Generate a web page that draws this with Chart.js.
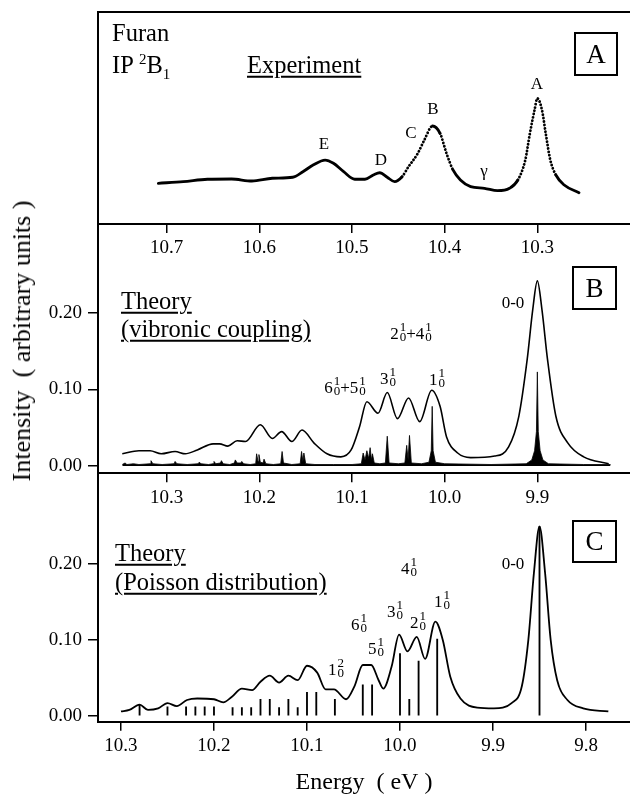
<!DOCTYPE html>
<html>
<head>
<meta charset="utf-8">
<script src="https://cdn.jsdelivr.net/npm/chart.js@4.4.1/dist/chart.umd.min.js"></script>
<style>
  body { margin: 0; background: #fff; }
  #fig { position: relative; width: 630px; height: 796px; overflow: hidden;
         font-family: "Liberation Serif", "Times New Roman", serif; color: #000; }
  #fig canvas { position: absolute; left: 0; }
  .t { position: absolute; white-space: nowrap; line-height: 1; z-index: 2; }
  .lft { transform: translate(0, -50%); }
  .c { transform: translate(-50%, -50%); }
  .big { font-size: 24.5px; }
  .pk { font-size: 17px; }
  .ul { text-decoration: underline; text-decoration-thickness: 1.5px; text-underline-offset: 3px; }
  .box { position: absolute; border: 2px solid #000; box-sizing: border-box; font-size: 27px;
         display: flex; align-items: center; justify-content: center; z-index: 2; }
  .sc { display: inline-block; vertical-align: -2px; font-size: 13px; line-height: 10px; margin-left: 1px; }
  .sc i { display: block; font-style: normal; }
  sup, sub { font-size: 15px; line-height: 0; }
  .ytitle { position: absolute; left: 22px; top: 341px; font-size: 26px; white-space: nowrap; line-height: 1;
            transform: translate(-50%, -50%) rotate(-90deg); }
</style>
</head>
<body>
<div id="fig">
  <canvas id="cA" width="630" height="262" style="top:0"></canvas>
  <canvas id="cB" width="630" height="287" style="top:224px"></canvas>
  <canvas id="cC" width="630" height="323" style="top:473px"></canvas>

  <div class="t lft big" style="left:112px;top:33px">Furan</div>
  <div class="t lft big" style="left:112px;top:65px">IP <sup>2</sup>B<sub>1</sub></div>
  <div class="t lft big ul" style="left:247px;top:65px">Experiment</div>
  <div class="box" style="left:574px;top:32px;width:44px;height:44px">A</div>
  <div class="t c pk" style="left:324px;top:143px">E</div>
  <div class="t c pk" style="left:381px;top:159px">D</div>
  <div class="t c pk" style="left:411px;top:132px">C</div>
  <div class="t c pk" style="left:433px;top:108px">B</div>
  <div class="t c pk" style="left:484px;top:170px">&gamma;</div>
  <div class="t c pk" style="left:537px;top:83px">A</div>

  <div class="t lft big ul" style="left:121px;top:301px">Theory</div>
  <div class="t lft big ul" style="left:121px;top:329px">(vibronic coupling)</div>
  <div class="box" style="left:572px;top:266px;width:45px;height:44px">B</div>
  <div class="t c pk" style="left:513px;top:302px">0-0</div>
  <div class="t c pk" style="left:411px;top:332px">2<span class="sc"><i>1</i><i>0</i></span>+4<span class="sc"><i>1</i><i>0</i></span></div>
  <div class="t c pk" style="left:345px;top:386px">6<span class="sc"><i>1</i><i>0</i></span>+5<span class="sc"><i>1</i><i>0</i></span></div>
  <div class="t c pk" style="left:388px;top:377px">3<span class="sc"><i>1</i><i>0</i></span></div>
  <div class="t c pk" style="left:437px;top:378px">1<span class="sc"><i>1</i><i>0</i></span></div>

  <div class="t lft big ul" style="left:115px;top:553px">Theory</div>
  <div class="t lft big ul" style="left:115px;top:582px">(Poisson distribution)</div>
  <div class="box" style="left:572px;top:520px;width:45px;height:43px">C</div>
  <div class="t c pk" style="left:513px;top:563px">0-0</div>
  <div class="t c pk" style="left:409px;top:567px">4<span class="sc"><i>1</i><i>0</i></span></div>
  <div class="t c pk" style="left:442px;top:600px">1<span class="sc"><i>1</i><i>0</i></span></div>
  <div class="t c pk" style="left:395px;top:610px">3<span class="sc"><i>1</i><i>0</i></span></div>
  <div class="t c pk" style="left:418px;top:621px">2<span class="sc"><i>1</i><i>0</i></span></div>
  <div class="t c pk" style="left:359px;top:623px">6<span class="sc"><i>1</i><i>0</i></span></div>
  <div class="t c pk" style="left:376px;top:647px">5<span class="sc"><i>1</i><i>0</i></span></div>
  <div class="t c pk" style="left:336px;top:668px">1<span class="sc"><i>2</i><i>0</i></span></div>

  <div class="ytitle">Intensity&nbsp; ( arbitrary units )</div>
</div>

<script>
// Panel A: measured spectrum, intensity relative to peak A
const expEnergy = [10.709, 10.682, 10.656, 10.630, 10.608, 10.586, 10.564, 10.553, 10.542, 10.529,
  10.520, 10.509, 10.497, 10.486, 10.477, 10.470, 10.462, 10.454, 10.446, 10.439,
  10.429, 10.422, 10.413, 10.405, 10.398, 10.391, 10.383, 10.372, 10.357, 10.343,
  10.330, 10.321, 10.313, 10.308, 10.303, 10.300, 10.295, 10.291, 10.286, 10.280,
  10.271, 10.255];
const expIntensity = [0.324, 0.337, 0.356, 0.358, 0.342, 0.364, 0.372, 0.416, 0.469, 0.509,
  0.483, 0.416, 0.356, 0.356, 0.390, 0.408, 0.372, 0.337, 0.376, 0.456,
  0.562, 0.668, 0.780, 0.722, 0.562, 0.430, 0.350, 0.297, 0.284, 0.265,
  0.284, 0.350, 0.509, 0.722, 0.907, 1.000, 0.907, 0.724, 0.509, 0.390,
  0.310, 0.249];

// Panel B: vibronic coupling envelope
const vibEnergy = [10.348, 10.330, 10.318, 10.306, 10.291, 10.280, 10.267, 10.250, 10.243, 10.234,
  10.224, 10.215, 10.199, 10.186, 10.176, 10.165, 10.154, 10.141, 10.127, 10.112,
  10.101, 10.092, 10.084, 10.072, 10.062, 10.051, 10.039, 10.027, 10.014, 10.005,
  9.998, 9.986, 9.972, 9.946, 9.931, 9.920, 9.911, 9.905, 9.900, 9.895,
  9.889, 9.880, 9.867, 9.850, 9.823];
const vibIntensity = [0.016, 0.020, 0.020, 0.016, 0.019, 0.016, 0.021, 0.029, 0.029, 0.026,
  0.033, 0.032, 0.054, 0.036, 0.045, 0.032, 0.047, 0.030, 0.016, 0.012,
  0.021, 0.051, 0.084, 0.069, 0.096, 0.062, 0.089, 0.058, 0.099, 0.078,
  0.038, 0.017, 0.011, 0.013, 0.025, 0.065, 0.139, 0.204, 0.242, 0.204,
  0.139, 0.065, 0.030, 0.012, 0.003];

// Panel B: line spectrum under the envelope
const vibStickEnergy = [10.348, 10.345, 10.343, 10.336, 10.330, 10.318, 10.317, 10.315, 10.305, 10.292,
  10.291, 10.289, 10.278, 10.266, 10.265, 10.263, 10.255, 10.250, 10.249, 10.247,
  10.242, 10.241, 10.239, 10.232, 10.227, 10.226, 10.224, 10.220, 10.219, 10.217,
  10.210, 10.204, 10.203, 10.2015, 10.2005, 10.199, 10.196, 10.195, 10.193, 10.185,
  10.177, 10.1755, 10.174, 10.165, 10.156, 10.1545, 10.153, 10.152, 10.150, 10.140,
  10.120, 10.100, 10.090, 10.088, 10.086, 10.084, 10.082, 10.0805, 10.079, 10.078,
  10.076, 10.070, 10.064, 10.062, 10.060, 10.050, 10.043, 10.041, 10.0395, 10.038,
  10.036, 10.025, 10.017, 10.0145, 10.0135, 10.0125, 10.010, 10.000, 9.950, 9.912,
  9.906, 9.903, 9.901, 9.900, 9.899, 9.897, 9.894, 9.888, 9.850, 9.821];
const vibStickIntensity = [0.002, 0.004, 0.002, 0.003, 0.002, 0.003, 0.007, 0.003, 0.002, 0.003,
  0.006, 0.003, 0.002, 0.003, 0.005, 0.003, 0.002, 0.003, 0.006, 0.003,
  0.004, 0.007, 0.003, 0.002, 0.004, 0.008, 0.004, 0.004, 0.006, 0.003,
  0.002, 0.003, 0.016, 0.006, 0.015, 0.005, 0.004, 0.009, 0.003, 0.002,
  0.003, 0.019, 0.004, 0.002, 0.003, 0.019, 0.006, 0.017, 0.003, 0.002,
  0.002, 0.002, 0.003, 0.017, 0.008, 0.020, 0.010, 0.024, 0.008, 0.016,
  0.004, 0.003, 0.004, 0.039, 0.004, 0.003, 0.004, 0.027, 0.008, 0.040,
  0.004, 0.003, 0.005, 0.020, 0.078, 0.020, 0.005, 0.003, 0.002, 0.003,
  0.008, 0.020, 0.045, 0.123, 0.045, 0.020, 0.008, 0.003, 0.002, 0.002];

// Panel C: Poisson model envelope
const poisEnergy = [10.300, 10.291, 10.280, 10.271, 10.260, 10.250, 10.240, 10.229, 10.218, 10.200,
  10.190, 10.181, 10.170, 10.159, 10.150, 10.140, 10.130, 10.120, 10.110, 10.100,
  10.089, 10.080, 10.071, 10.058, 10.049, 10.040, 10.031, 10.023, 10.018, 10.009,
  10.001, 9.992, 9.982, 9.973, 9.962, 9.954, 9.946, 9.935, 9.917, 9.899,
  9.880, 9.869, 9.862, 9.856, 9.850, 9.844, 9.838, 9.831, 9.820, 9.803, 9.776];
const poisIntensity = [0.006, 0.008, 0.015, 0.008, 0.010, 0.017, 0.013, 0.021, 0.023, 0.022,
  0.018, 0.025, 0.036, 0.034, 0.045, 0.053, 0.044, 0.053, 0.047, 0.066,
  0.057, 0.035, 0.035, 0.022, 0.039, 0.067, 0.067, 0.047, 0.036, 0.065,
  0.107, 0.085, 0.104, 0.075, 0.124, 0.100, 0.052, 0.023, 0.011, 0.010,
  0.017, 0.039, 0.100, 0.188, 0.249, 0.188, 0.100, 0.047, 0.021, 0.010, 0.006];

// Panel C: Poisson line positions and heights
const poisStickEnergy = [10.28, 10.25, 10.23, 10.22, 10.21, 10.20, 10.18, 10.17, 10.16, 10.15,
  10.14, 10.13, 10.12, 10.11, 10.10, 10.09, 10.07, 10.04, 10.03, 10.00,
  9.99, 9.98, 9.96, 9.85];
const poisStickIntensity = [0.015, 0.012, 0.012, 0.012, 0.012, 0.012, 0.011, 0.011, 0.011, 0.022,
  0.022, 0.011, 0.022, 0.011, 0.031, 0.031, 0.022, 0.041, 0.041, 0.082,
  0.022, 0.072, 0.101, 0.249];

// tick values
const energyTicksA = [10.7, 10.6, 10.5, 10.4, 10.3];
const energyTicksB = [10.3, 10.2, 10.1, 10.0, 9.9];
const energyTicksC = [10.3, 10.2, 10.1, 10.0, 9.9, 9.8];
const intensityTicks = [0, 0.1, 0.2];

const serif = '"Liberation Serif", "Times New Roman", serif';
const tickFont = { family: serif, size: 19 };
const pts = (xs, ys) => xs.map((x, i) => ({ x: x, y: ys[i] }));

function energyAxis(min, max, ticks, height, title) {
  return {
    type: 'linear',
    reverse: true,
    offset: false,
    min: min,
    max: max,
    afterBuildTicks: s => { s.ticks = ticks.map(v => ({ value: v })); },
    afterFit: s => { s.height = height; s.paddingLeft = 0; s.paddingRight = 0; },
    border: { display: true, color: '#000', width: 2 },
    grid: { offset: false, drawOnChartArea: false, drawTicks: true, tickLength: 9, color: '#000', lineWidth: 1.5 },
    ticks: { color: '#000', font: tickFont, padding: 4, autoSkip: false, maxRotation: 0,
             callback: v => Number(v).toFixed(1) },
    title: title
      ? { display: true, text: title, color: '#000', font: { family: serif, size: 24, lineHeight: 1 },
          padding: { top: 0, bottom: 1 } }
      : { display: false }
  };
}

function intensityAxis(min, max, ticks) {
  const axis = {
    type: 'linear',
    min: min,
    max: max,
    // keep the plot area flush with the panel edges
    afterFit: s => { s.width = 98; s.paddingTop = 0; s.paddingBottom = 0; },
    border: { display: true, color: '#000', width: 2 },
    grid: { drawOnChartArea: false, drawTicks: !!ticks, tickLength: 10, color: '#000', lineWidth: 1.5 },
    ticks: { display: !!ticks, color: '#000', font: tickFont, padding: 6,
             callback: v => Number(v).toFixed(2) }
  };
  if (ticks) axis.afterBuildTicks = s => { s.ticks = ticks.map(v => ({ value: v })); };
  return axis;
}

function baseOptions(padTop, x, y) {
  return {
    responsive: false,
    animation: false,
    events: [],
    layout: { padding: { top: padTop, right: 0, bottom: 0, left: 0 } },
    plugins: { legend: { display: false }, tooltip: { enabled: false } },
    scales: { x: x, y: y }
  };
}

// closing line along the top of panel A
const topFrame = {
  id: 'topFrame',
  afterDraw(chart) {
    const { ctx, chartArea: a } = chart;
    ctx.save();
    ctx.strokeStyle = '#000';
    ctx.lineWidth = 2;
    ctx.beginPath();
    ctx.moveTo(a.left - 1, a.top);
    ctx.lineTo(a.right, a.top);
    ctx.stroke();
    ctx.restore();
  }
};

// steep stretches of the measured trace show up as separate dots
const steepDots = ctx => {
  const dx = Math.abs(ctx.p1.x - ctx.p0.x);
  const dy = Math.abs(ctx.p1.y - ctx.p0.y);
  return dy > 1.4 * dx ? [0.1, 3.3] : undefined;
};

new Chart(document.getElementById('cA'), {
  type: 'line',
  data: {
    datasets: [{
      data: pts(expEnergy, expIntensity),
      borderColor: '#000',
      borderWidth: 2.8,
      borderCapStyle: 'round',
      pointRadius: 0,
      cubicInterpolationMode: 'monotone',
      segment: { borderDash: steepDots }
    }]
  },
  options: baseOptions(12,
    energyAxis(10.2, 10.7741, energyTicksA, 38),
    intensityAxis(0, 1.687, null)),
  plugins: [topFrame]
});

new Chart(document.getElementById('cB'), {
  type: 'line',
  data: {
    datasets: [{
      data: pts(vibEnergy, vibIntensity),
      borderColor: '#000',
      borderWidth: 1.6,
      pointRadius: 0,
      cubicInterpolationMode: 'monotone'
    }, {
      data: pts(vibStickEnergy, vibStickIntensity),
      borderColor: '#000',
      backgroundColor: '#000',
      borderWidth: 0.8,
      pointRadius: 0,
      tension: 0,
      fill: 'origin'
    }]
  },
  options: baseOptions(0,
    energyAxis(9.8, 10.3742, energyTicksB, 37.7),
    intensityAxis(-0.0095, 0.3163, intensityTicks))
});

new Chart(document.getElementById('cC'), {
  type: 'line',
  data: {
    datasets: [{
      data: pts(poisEnergy, poisIntensity),
      borderColor: '#000',
      borderWidth: 1.8,
      pointRadius: 0,
      cubicInterpolationMode: 'monotone'
    }, {
      type: 'bar',
      data: pts(poisStickEnergy, poisStickIntensity),
      backgroundColor: '#000',
      barThickness: 1.2,
      grouped: false
    }]
  },
  options: baseOptions(0,
    energyAxis(9.7527, 10.3247, energyTicksC, 74.3, 'Energy  ( eV )'),
    intensityAxis(-0.0075, 0.3193, intensityTicks))
});
</script>
</body>
</html>
